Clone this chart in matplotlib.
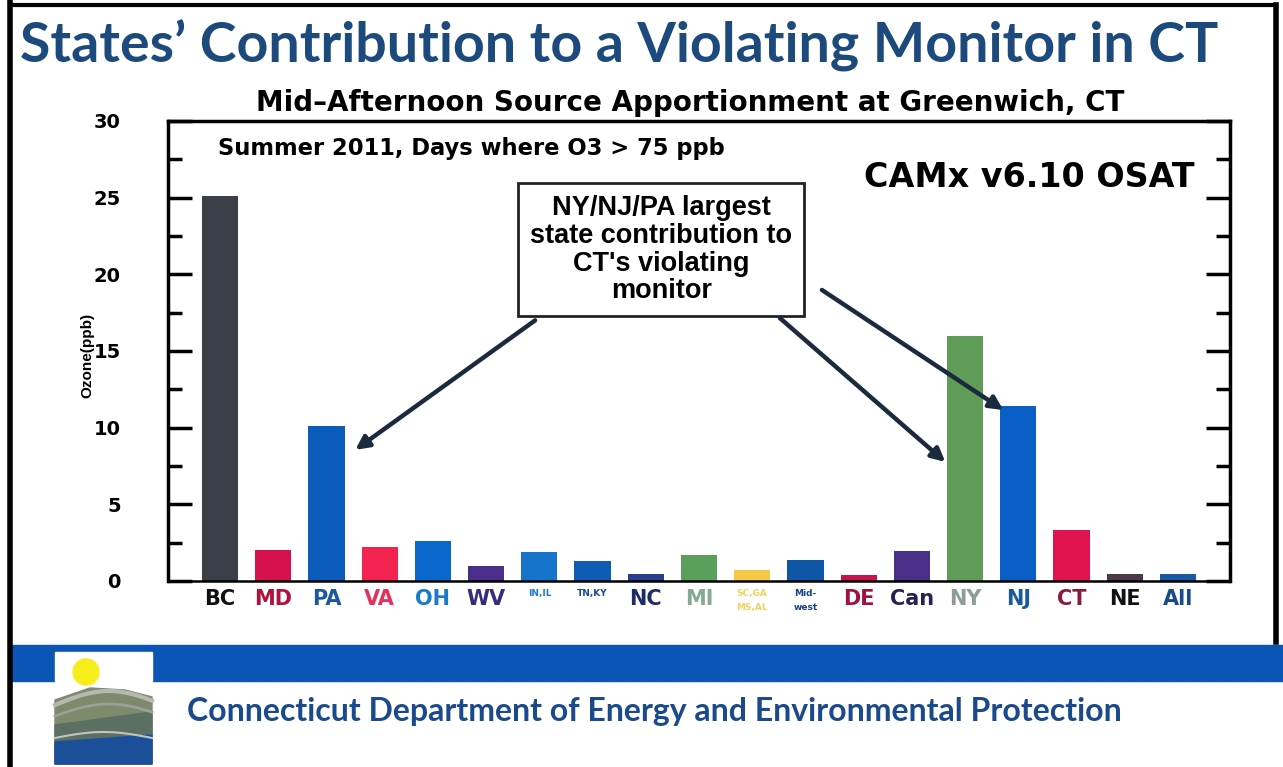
import matplotlib.pyplot as plt
from matplotlib.patches import Rectangle, Circle, Polygon
import numpy as np

# source regions and mid-afternoon ozone contribution (ppb)
sources = ['BC', 'MD', 'PA', 'VA', 'OH', 'WV', 'IN,IL', 'TN,KY', 'NC', 'MI',
           'SC,GA\nMS,AL', 'Mid-\nwest', 'DE', 'Can', 'NY', 'NJ', 'CT', 'NE', 'All']
ozone = [25.1, 2.0, 10.1, 2.2, 2.6, 1.0, 1.9, 1.3, 0.45, 1.7,
         0.7, 1.4, 0.4, 1.95, 16.0, 11.4, 3.3, 0.45, 0.45]
bar_colors = ['#3b4048', '#d5114e', '#0c5cbd', '#f2244f', '#0a68cc', '#4b2e8a',
              '#1674cb', '#0c5db3', '#293f8e', '#5a9f5a', '#f5c946', '#0d57a6',
              '#c9124f', '#4a2f89', '#5e9c58', '#0a5fc6', '#e1134f', '#4b3848', '#1a5aa5']
label_colors = ['#111111', '#b0103c', '#1a5a9a', '#e3325c', '#1a7ac8', '#3a2a7a',
                '#1a7ac8', '#1a4a9a', '#1f2a6a', '#84aa90', '#f0d060', '#1a3f8a',
                '#a01040', '#2a2050', '#8c9c98', '#1a5a9a', '#8a1a3a', '#111111', '#1a4a8a']
small_labels = ['IN,IL', 'TN,KY', 'SC,GA\nMS,AL', 'Mid-\nwest']

W, H = 1283, 767
fig = plt.figure(figsize=(W / 100, H / 100), dpi=100)
fig.patch.set_facecolor('white')

# slide decorations in pixel coordinates
deco = fig.add_axes([0, 0, 1, 1])
deco.set_xlim(0, W)
deco.set_ylim(H, 0)
deco.axis('off')
deco.plot([10, 10], [0, H], color='black', lw=4)
deco.plot([10, 1276], [5, 5], color='black', lw=3)
deco.plot([1276, 1276], [5, 642], color='black', lw=4)
deco.add_patch(Rectangle((12, 645), W - 12, 36, color='#0b56b4'))
# logo
deco.add_patch(Rectangle((55, 652), 97, 112, color='white'))
deco.add_patch(Circle((86, 672), 13, color='#f7ec1c'))
xs = np.linspace(55, 152, 40)
deco.add_patch(Polygon([(55, 700), (90, 688), (125, 690), (152, 697), (152, 764), (55, 764)],
                       closed=True, color='#7d8a6c'))
deco.add_patch(Polygon([(55, 725), (152, 712), (152, 764), (55, 764)], closed=True, color='#5b6f62'))
deco.add_patch(Polygon([(55, 742), (152, 735), (152, 764), (55, 764)], closed=True, color='#1c4f9a'))
deco.plot(xs, 705 - 14 * np.sin((xs - 55) / 97 * np.pi * 0.9), color='#b8b8b0', lw=3)
deco.plot(xs, 716 - 12 * np.sin((xs - 55) / 97 * np.pi * 0.9), color='#9aa09a', lw=2)
deco.plot(xs, 738 - 6 * np.sin((xs - 55) / 97 * np.pi), color='#c0c4c4', lw=1.5)

deco.text(20, 46, 'States\u2019 Contribution to a Violating Monitor in CT', fontsize=40,
          fontweight='bold', family='Lato', color='#1d4a7c', va='center', ha='left')
deco.text(187, 712, 'Connecticut Department of Energy and Environmental Protection',
          fontsize=23, fontweight='bold', family='Lato', color='#1b4a8c', va='center', ha='left')
deco.text(690, 103, 'Mid\u2013Afternoon Source Apportionment at Greenwich, CT',
          fontsize=20, fontweight='bold', family='DejaVu Sans', color='black', ha='center', va='center')
deco.text(87, 355, 'Ozone(ppb)', fontsize=11, fontweight='bold', family='Liberation Sans',
          rotation=90, ha='center', va='center', color='black')

# chart
ax = fig.add_axes([168 / W, 1 - 581 / H, (1230 - 168) / W, (581 - 121) / H])
x = np.arange(len(sources))
ax.bar(x, ozone, width=0.68, color=bar_colors, zorder=2)
ax.set_xlim(-0.98, len(sources) - 0.02)
ax.set_ylim(0, 30)
ax.set_yticks(range(0, 31, 5))
ax.set_yticks(np.arange(2.5, 30, 5), minor=True)
ax.tick_params(axis='y', which='both', direction='in', left=True, right=True, width=2.5)
ax.tick_params(axis='y', which='major', length=17, labelsize=14, pad=34)
ax.tick_params(axis='y', which='minor', length=10)
for t in ax.get_yticklabels():
    t.set_fontweight('heavy')
    t.set_family('DejaVu Sans')
ax.set_xticks(x)
ax.set_xticklabels(sources)
ax.tick_params(axis='x', length=0, pad=6)
for t, c, s in zip(ax.get_xticklabels(), label_colors, sources):
    t.set_color(c)
    t.set_fontweight('bold')
    t.set_va('top')
    if s in small_labels:
        t.set_fontsize(6.5)
        t.set_linespacing(1.6)
    else:
        t.set_fontsize(15)
for side in ['left', 'right', 'top']:
    ax.spines[side].set_linewidth(2.5)
ax.spines['bottom'].set_linewidth(1.8)

ax.text(0.047, 0.94, 'Summer 2011, Days where O3 > 75 ppb', transform=ax.transAxes,
        fontsize=16.3, fontweight='bold', ha='left', va='center')
ax.text(0.967, 0.878, 'CAMx v6.10 OSAT', transform=ax.transAxes,
        fontsize=24, fontweight='bold', ha='right', va='center')

# callout box and arrows
ax.text(8.29, 21.6, "NY/NJ/PA largest\nstate contribution to\nCT's violating\nmonitor",
        fontsize=19.5, fontweight='bold', family='Liberation Sans', ha='center', va='center',
        linespacing=1.08, zorder=5,
        bbox=dict(boxstyle='square,pad=0.45', fc='white', ec='#222222', lw=2))
arrow = dict(arrowstyle='-|>', color='#1b2a3c', lw=3.2, mutation_scale=20, shrinkA=0, shrinkB=0)
ax.annotate('', xy=(2.54, 8.55), xytext=(5.92, 17.0), arrowprops=arrow, zorder=6)
ax.annotate('', xy=(13.63, 7.76), xytext=(10.52, 17.15), arrowprops=arrow, zorder=6)
ax.annotate('', xy=(14.72, 11.15), xytext=(11.31, 18.98), arrowprops=arrow, zorder=6)

fig.savefig('out.png', dpi=100)
